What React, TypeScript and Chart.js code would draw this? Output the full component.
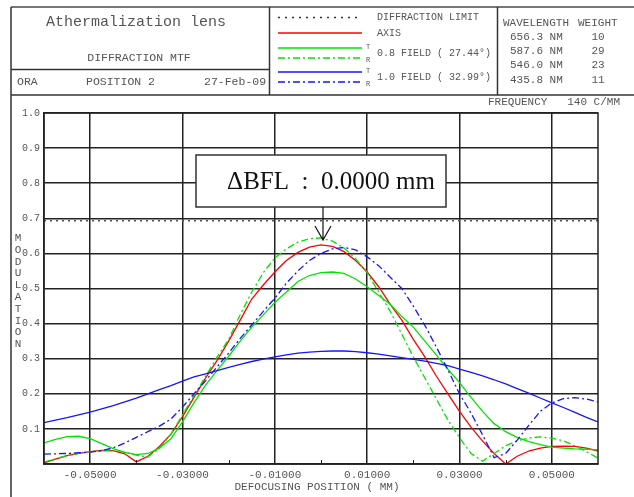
import React, { useEffect, useRef } from 'react';
import { Chart, registerables } from 'chart.js';

Chart.register(...registerables);

// ---------- data ----------
const defocus = [
  -0.06, -0.0575, -0.055, -0.0525, -0.05, -0.0475, -0.045, -0.0425, -0.04, -0.0375,
  -0.035, -0.0325, -0.03, -0.0275, -0.025, -0.0225, -0.02, -0.0175, -0.015, -0.0125,
  -0.01, -0.0075, -0.005, -0.0025, 0, 0.0025, 0.005, 0.0075, 0.01, 0.0125,
  0.015, 0.0175, 0.02, 0.0225, 0.025, 0.0275, 0.03, 0.0325, 0.035, 0.0375,
  0.04, 0.0425, 0.045, 0.0475, 0.05, 0.0525, 0.055, 0.0575, 0.06,
];

const axisMtf = [
  0.003, 0.014, 0.024, 0.030, 0.035, 0.039, 0.038, 0.029, 0.006, 0.022,
  0.05, 0.085, 0.135, 0.19, 0.245, 0.295, 0.35, 0.41, 0.47, 0.51,
  0.547, 0.58, 0.603, 0.618, 0.624, 0.62, 0.605, 0.58, 0.547, 0.505,
  0.455, 0.41, 0.355, 0.305, 0.25, 0.2, 0.15, 0.105, 0.065, 0.03,
  0.0, 0.022, 0.037, 0.045, 0.05, 0.051, 0.05, 0.045, 0.037,
];

const field08T = [
  0.06, 0.07, 0.078, 0.079, 0.072, 0.058, 0.044, 0.033, 0.027, 0.03,
  0.045, 0.072, 0.12, 0.175, 0.225, 0.267, 0.307, 0.35, 0.39, 0.425,
  0.46, 0.49, 0.52, 0.537, 0.545, 0.547, 0.543, 0.527, 0.505, 0.48,
  0.455, 0.42, 0.39, 0.35, 0.31, 0.27, 0.232, 0.19, 0.15, 0.115,
  0.092, 0.076, 0.064, 0.055, 0.048, 0.045, 0.043, 0.042, 0.04,
];

const field08R = [
  0.005, 0.015, 0.024, 0.03, 0.035, 0.038, 0.038, 0.034, 0.025, 0.02,
  0.045, 0.085, 0.14, 0.195, 0.25, 0.305, 0.355, 0.425, 0.49, 0.545,
  0.587, 0.613, 0.632, 0.642, 0.644, 0.635, 0.615, 0.585, 0.545, 0.49,
  0.435, 0.37, 0.305, 0.245, 0.185, 0.125, 0.075, 0.03, 0.008, 0.03,
  0.052, 0.066, 0.074, 0.077, 0.074, 0.066, 0.052, 0.035, 0.017,
];

const field10T = [
  0.118, 0.125, 0.132, 0.14, 0.148, 0.157, 0.166, 0.177, 0.188, 0.2,
  0.212, 0.223, 0.236, 0.248, 0.257, 0.266, 0.275, 0.284, 0.292, 0.299,
  0.305, 0.311, 0.316, 0.319, 0.321, 0.322, 0.322, 0.32, 0.317, 0.313,
  0.308, 0.303, 0.298, 0.293, 0.287, 0.28, 0.27, 0.261, 0.251, 0.24,
  0.228, 0.215, 0.202, 0.188, 0.174, 0.161, 0.147, 0.133, 0.12,
];

const field10R = [
  0.028, 0.029, 0.03, 0.032, 0.034, 0.038, 0.046, 0.06, 0.076, 0.092,
  0.108, 0.128, 0.162, 0.2, 0.237, 0.277, 0.316, 0.358, 0.396, 0.435,
  0.472, 0.515, 0.55, 0.58, 0.6, 0.613, 0.617, 0.61, 0.59, 0.565,
  0.532, 0.5, 0.45, 0.395, 0.333, 0.268, 0.2, 0.145, 0.083, 0.018,
  0.03, 0.068, 0.11, 0.15, 0.174, 0.186, 0.189, 0.185, 0.177,
];

const diffractionLimit = 0.693;
const xRange = [-0.06, 0.06];
const xTickValues = [-0.05, -0.03, -0.01, 0.01, 0.03, 0.05];
const xMinorTicks = [-0.04, -0.02, 0, 0.02, 0.04];
const yTickValues = [0, 0.1, 0.2, 0.3, 0.4, 0.5, 0.6, 0.7, 0.8, 0.9, 1.0];

const wavelengths = ['656.3 NM', '587.6 NM', '546.0 NM', '435.8 NM'];
const weights = ['10', '29', '23', '11'];

const bflLabel = '\u0394BFL  :  0.0000 mm';
const bflAt = 0;
const bflArrowTip = 0.638;

// ---------- styles ----------
const MONO = '"Liberation Mono", "DejaVu Sans Mono", monospace';
const TXT = '#555';
const LINE = '#222';
const RED = '#ff0000';
const GREEN = '#00e400';
const BLUE = '#1515ff';
const DASHDOT = [7, 3, 2, 3];

function pts(vals: number[]) {
  return defocus.map((x, i) => ({ x, y: vals[i] }));
}

const framePlugin = {
  id: 'zemaxFrame',
  beforeDraw(chart: any) {
    const ctx = chart.ctx;
    ctx.save();
    ctx.fillStyle = '#fff';
    ctx.fillRect(0, 0, chart.width, chart.height);
    ctx.restore();
  },
  afterDraw(chart: any) {
    const ctx = chart.ctx as CanvasRenderingContext2D;
    const ca = chart.chartArea;
    const xs = chart.scales.x;
    const ys = chart.scales.y;
    ctx.save();

    // plot border
    ctx.strokeStyle = LINE;
    ctx.lineWidth = 1.5;
    ctx.strokeRect(ca.left, ca.top, ca.right - ca.left, ca.bottom - ca.top);

    // minor ticks on x axis
    ctx.lineWidth = 1;
    xMinorTicks.forEach((v) => {
      const px = Math.round(xs.getPixelForValue(v)) + 0.5;
      ctx.beginPath();
      ctx.moveTo(px, ca.bottom);
      ctx.lineTo(px, ca.bottom - 4);
      ctx.stroke();
    });

    // header frame
    const line = (x1: number, y1: number, x2: number, y2: number, c = '#333', w = 1.5) => {
      ctx.strokeStyle = c;
      ctx.lineWidth = w;
      ctx.setLineDash([]);
      ctx.beginPath();
      ctx.moveTo(x1, y1);
      ctx.lineTo(x2, y2);
      ctx.stroke();
    };
    line(11, 7, 634, 7, '#777', 2);
    line(11, 7, 11, 497);
    line(11, 95, 634, 95);
    line(11, 69.5, 269, 69.5);
    line(269.5, 7, 269.5, 95);
    line(497.5, 7, 497.5, 95);

    // header text
    ctx.fillStyle = TXT;
    ctx.textBaseline = 'middle';
    ctx.textAlign = 'center';
    ctx.font = `15px ${MONO}`;
    ctx.fillText('Athermalization lens', 136, 22);
    ctx.font = `11.5px ${MONO}`;
    ctx.fillText('DIFFRACTION MTF', 139, 58);
    ctx.textAlign = 'left';
    ctx.fillText('ORA', 17, 82);
    ctx.fillText('POSITION 2', 86, 82);
    ctx.fillText('27-Feb-09', 204, 82);

    // legend samples
    const sample = (y: number, color: string, dash: number[], w = 1.3) => {
      ctx.strokeStyle = color;
      ctx.lineWidth = w;
      ctx.setLineDash(dash);
      ctx.beginPath();
      ctx.moveTo(278, y);
      ctx.lineTo(362, y);
      ctx.stroke();
    };
    sample(17.5, '#333', [2, 5], 1.5);
    sample(33, RED, []);
    sample(48, GREEN, []);
    sample(58, GREEN, DASHDOT);
    sample(72, BLUE, []);
    sample(82, BLUE, DASHDOT);
    ctx.setLineDash([]);

    ctx.fillStyle = TXT;
    ctx.font = `10px ${MONO}`;
    ctx.fillText('DIFFRACTION LIMIT', 377, 17);
    ctx.fillText('AXIS', 377, 33);
    ctx.fillText('0.8 FIELD ( 27.44\u00b0)', 377, 53);
    ctx.fillText('1.0 FIELD ( 32.99\u00b0)', 377, 77);
    ctx.font = `7px ${MONO}`;
    ctx.fillText('T', 366, 47);
    ctx.fillText('R', 366, 60);
    ctx.fillText('T', 366, 71);
    ctx.fillText('R', 366, 84);

    // wavelength table
    ctx.font = `11px ${MONO}`;
    ctx.fillText('WAVELENGTH', 503, 23);
    ctx.fillText('WEIGHT', 578, 23);
    wavelengths.forEach((w, i) => {
      const y = 37 + i * 14.2;
      ctx.textAlign = 'left';
      ctx.fillText(w, 510, y);
      ctx.textAlign = 'center';
      ctx.fillText(weights[i], 598, y);
    });

    // frequency
    ctx.textAlign = 'right';
    ctx.fillText('FREQUENCY   140 C/MM', 620, 102);

    // axis titles
    ctx.textAlign = 'center';
    ctx.font = `11px ${MONO}`;
    'MODULATION'.split('').forEach((ch, i) => {
      ctx.fillText(ch, 18, 238 + i * 11.8);
    });
    ctx.fillText('DEFOCUSING POSITION ( MM)', 317, 487);

    // BFL annotation
    const cx = xs.getPixelForValue(bflAt);
    const bx = cx - 125;
    const by = 155;
    const bw = 250;
    const bh = 52;
    ctx.fillStyle = '#fff';
    ctx.fillRect(bx, by, bw, bh);
    ctx.strokeStyle = '#333';
    ctx.lineWidth = 1.5;
    ctx.strokeRect(bx, by, bw, bh);
    ctx.fillStyle = '#111';
    ctx.font = '25px "Liberation Serif", "DejaVu Serif", serif';
    ctx.textAlign = 'center';
    ctx.fillText(bflLabel, cx + 10, by + bh / 2 + 1);

    const tip = ys.getPixelForValue(bflArrowTip);
    ctx.strokeStyle = '#111';
    ctx.lineWidth = 1.2;
    ctx.beginPath();
    ctx.moveTo(cx + 2, by + bh);
    ctx.lineTo(cx + 2, tip);
    ctx.moveTo(cx - 6, tip - 14);
    ctx.lineTo(cx + 2, tip);
    ctx.lineTo(cx + 10, tip - 14);
    ctx.stroke();

    ctx.restore();
  },
};

export default function App() {
  const ref = useRef<HTMLCanvasElement | null>(null);

  useEffect(() => {
    if (!ref.current) return;
    const ds = (label: string, vals: number[], color: string, dash: number[] = []) => ({
      label,
      data: pts(vals),
      borderColor: color,
      borderWidth: 1.3,
      borderDash: dash,
      pointRadius: 0,
      fill: false,
      tension: 0,
    });
    const chart = new Chart(ref.current, {
      type: 'line',
      data: {
        datasets: [
          {
            label: 'DIFFRACTION LIMIT',
            data: xRange.map((x) => ({ x, y: diffractionLimit })),
            borderColor: '#555',
            borderWidth: 1.6,
            borderDash: [2, 4],
            pointRadius: 0,
            fill: false,
          },
          ds('1.0 FIELD T', field10T, BLUE),
          ds('1.0 FIELD R', field10R, BLUE, DASHDOT),
          ds('0.8 FIELD T', field08T, GREEN),
          ds('0.8 FIELD R', field08R, GREEN, DASHDOT),
          ds('AXIS', axisMtf, RED),
        ],
      },
      options: {
        responsive: false,
        animation: false,
        devicePixelRatio: 1,
        layout: { padding: { left: 10, right: 36, top: 113, bottom: 8 } },
        plugins: {
          legend: { display: false },
          tooltip: { enabled: false },
          title: { display: false },
        },
        scales: {
          x: {
            type: 'linear',
            min: xRange[0],
            max: xRange[1],
            afterBuildTicks: (s: any) => {
              s.ticks = xTickValues.map((v) => ({ value: v }));
            },
            afterFit: (s: any) => {
              s.height = 25;
            },
            ticks: {
              callback: (v: any) => Number(v).toFixed(5),
              font: { family: MONO, size: 11 },
              color: TXT,
              padding: 4,
              maxRotation: 0,
              autoSkip: false,
            },
            grid: { color: LINE, lineWidth: 1.5, drawTicks: false },
            border: { display: true, color: LINE, width: 1.5 },
          },
          y: {
            type: 'linear',
            min: 0,
            max: 1,
            afterBuildTicks: (s: any) => {
              s.ticks = yTickValues.map((v) => ({ value: v }));
            },
            afterFit: (s: any) => {
              s.width = 34;
            },
            ticks: {
              callback: (v: any) => (Number(v) === 0 ? '' : Number(v).toFixed(1)),
              font: { family: MONO, size: 10 },
              color: TXT,
              padding: 4,
              autoSkip: false,
            },
            grid: { color: LINE, lineWidth: 1.5, drawTicks: false },
            border: { display: true, color: LINE, width: 1.5 },
          },
        },
      },
      plugins: [framePlugin],
    } as any);
    return () => chart.destroy();
  }, []);

  return (
    <div style={{ position: 'fixed', left: 0, top: 0, width: 634, height: 497, background: '#fff' }}>
      <canvas ref={ref} width={634} height={497} style={{ display: 'block' }} />
    </div>
  );
}
